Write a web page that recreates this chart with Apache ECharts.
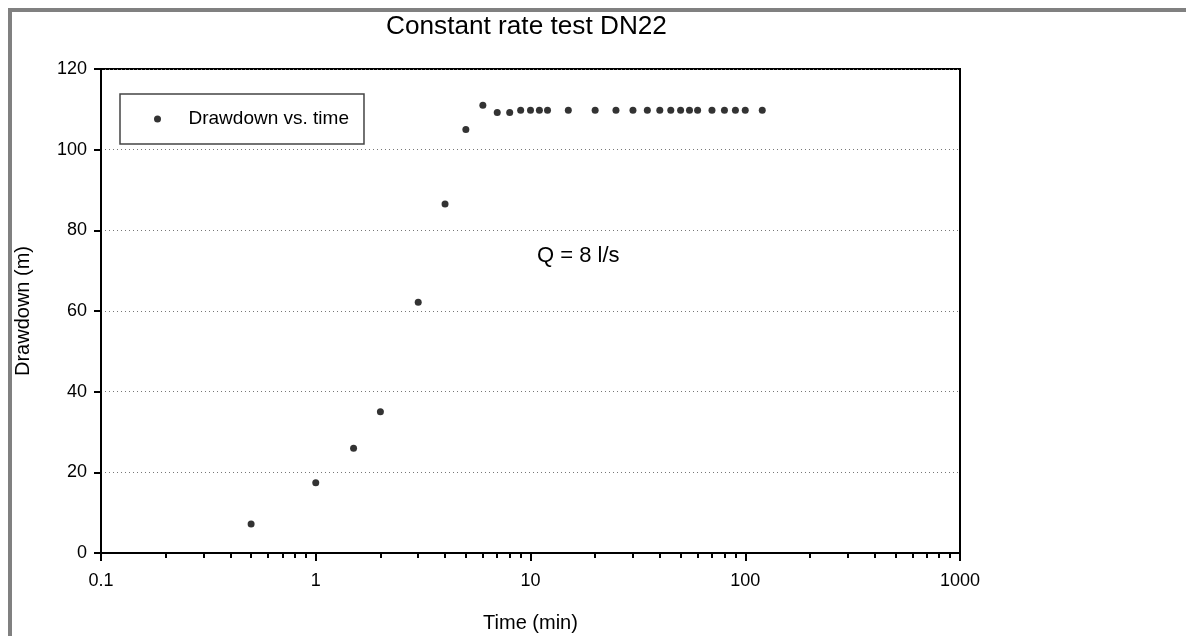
<!DOCTYPE html>
<html>
<head>
<meta charset="utf-8">
<script src="https://cdn.jsdelivr.net/npm/echarts@6/dist/echarts.min.js"></script>
<style>
  html, body { margin: 0; padding: 0; background: #fff; }
  #chart { width: 1186px; height: 636px; position: relative; }
  #frame { position: absolute; left: 8px; top: 8px; width: 1178px; height: 628px;
           border-top: 4px solid #808080; border-left: 4px solid #808080; box-sizing: border-box; pointer-events: none; }
</style>
</head>
<body>
<div style="position:relative;width:1186px;height:636px;">
  <div id="chart"></div>
  <div id="frame"></div>
</div>
<script>
// ---- data ----
const timeMin = [0.5, 1, 1.5, 2, 3, 4, 5, 6, 7, 8, 9, 10, 11, 12, 15, 20, 25, 30, 35, 40, 45, 50, 55, 60, 70, 80, 90, 100, 120];
const drawdownM = [7.2, 17.4, 26.0, 35.0, 62.2, 86.5, 105.0, 111.0, 109.2, 109.2, 109.8, 109.8, 109.8, 109.8, 109.8, 109.8, 109.8, 109.8, 109.8, 109.8, 109.8, 109.8, 109.8, 109.8, 109.8, 109.8, 109.8, 109.8, 109.8];
const yTicks = [0, 20, 40, 60, 80, 100, 120];
const xDecades = [0.1, 1, 10, 100, 1000];
const titleText = 'Constant rate test DN22';
const seriesName = 'Drawdown vs. time';
const annotation = 'Q = 8 l/s';

// minor tick positions (2..9 per decade), expressed on a log10 helper axis
const minorTickVals = [];
for (let d = -1; d < 3; d++) {
  for (let k = 2; k <= 9; k++) minorTickVals.push(Math.log10(k) + d);
}

const font = 'Arial, "Liberation Sans", sans-serif';
const chart = echarts.init(document.getElementById('chart'), null, { renderer: 'canvas' });

chart.setOption({
  animation: false,
  backgroundColor: '#fff',
  textStyle: { fontFamily: font },
  title: [
    { text: titleText, left: 381, top: 9,
      textStyle: { fontFamily: font, fontSize: 26.2, fontWeight: 'normal', color: '#000' } },
    { text: annotation, left: 532, top: 240,
      textStyle: { fontFamily: font, fontSize: 22, fontWeight: 'normal', color: '#000' } }
  ],
  legend: {
    left: 120, top: 94,
    orient: 'horizontal',
    padding: [15.5, 15, 15.5, 34],
    borderColor: '#444', borderWidth: 1.5,
    itemWidth: 52, itemHeight: 7,
    icon: 'circle',
    textStyle: { fontFamily: font, fontSize: 19, color: '#000' },
    data: [seriesName]
  },
  grid: {
    left: 101, right: 226, top: 69, bottom: 83,
    outerBoundsMode: 'none', containLabel: false,
    show: true, borderColor: '#000', borderWidth: 2, backgroundColor: 'transparent'
  },
  xAxis: [
    {
      type: 'log', logBase: 10, min: xDecades[0], max: xDecades[xDecades.length - 1],
      position: 'bottom',
      name: 'Time (min)', nameLocation: 'middle', nameGap: 60,
      nameTextStyle: { fontFamily: font, fontSize: 20, color: '#000' },
      axisLine: { show: true, onZero: false, lineStyle: { color: '#000', width: 2 } },
      axisTick: { show: true, inside: false, length: 8, lineStyle: { color: '#000', width: 2 } },
      axisLabel: { fontFamily: font, fontSize: 18, color: '#000', margin: 19,
                   formatter: v => String(v) },
      splitLine: { show: false },
      minorTick: { show: false }
    },
    {
      type: 'value', min: -1, max: 3, position: 'bottom',
      axisLine: { show: false, onZero: false },
      axisTick: { show: true, inside: false, length: 5, customValues: minorTickVals,
                  lineStyle: { color: '#000', width: 2 } },
      axisLabel: { show: false },
      splitLine: { show: false }
    }
  ],
  yAxis: {
    type: 'value', min: yTicks[0], max: yTicks[yTicks.length - 1], interval: 20,
    position: 'left',
    name: 'Drawdown (m)', nameLocation: 'middle', nameGap: 68, nameRotate: 90,
    nameTextStyle: { fontFamily: font, fontSize: 20, color: '#000' },
    axisLine: { show: true, onZero: false, lineStyle: { color: '#000', width: 2 } },
    axisTick: { show: true, inside: false, length: 7, lineStyle: { color: '#000', width: 2 } },
    axisLabel: { fontFamily: font, fontSize: 18, color: '#000', margin: 14 },
    splitLine: { show: true, lineStyle: { color: '#777', width: 1, type: [1, 3] } }
  },
  series: [
    {
      name: seriesName,
      type: 'scatter',
      xAxisIndex: 0,
      symbol: 'circle',
      symbolSize: 7,
      itemStyle: { color: '#000' },
      data: timeMin.map((t, i) => [t, drawdownM[i]])
    }
  ]
});
</script>
</body>
</html>
